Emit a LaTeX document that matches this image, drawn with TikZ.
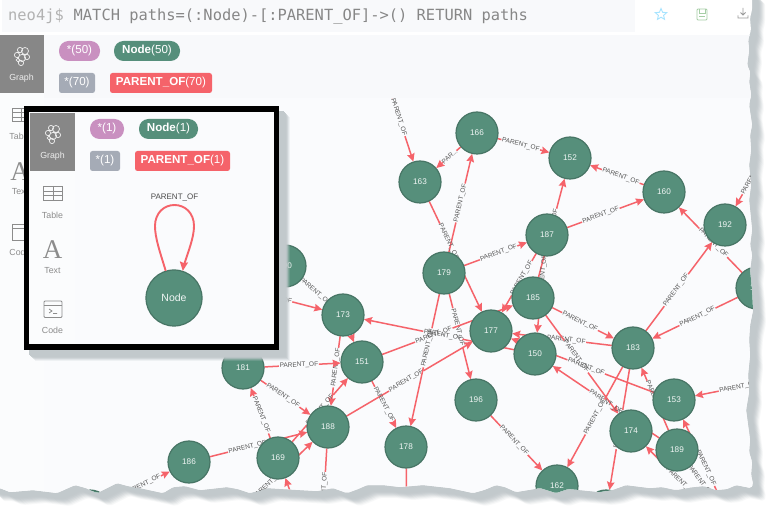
\documentclass[tikz,border=0pt]{standalone}
\usepackage{fontspec}
\setmainfont{Liberation Sans}
\newfontfamily\cmdfont{DejaVu Sans Mono}
\newfontfamily\bigafont{Liberation Serif}
\usetikzlibrary{calc,arrows.meta,shapes.geometric}
\definecolor{pagebg}{HTML}{FAFBFD}
\definecolor{bandbg}{HTML}{F8F9FB}
\definecolor{sidebg}{HTML}{FBFCFD}
\definecolor{btngray}{HTML}{878787}
\definecolor{nodefill}{HTML}{568F7B}
\definecolor{nodeline}{HTML}{477565}
\definecolor{relred}{HTML}{F5636A}
\definecolor{pink}{HTML}{C990C0}
\definecolor{slate}{HTML}{A5ABB6}
\definecolor{tornshadow}{HTML}{C2C9CC}
\definecolor{lblgray}{HTML}{555555}
\definecolor{sidegray}{HTML}{8C8C8C}
\pgfdeclarelayer{backdrop}
\pgfdeclarelayer{edgelayer}
\pgfsetlayers{backdrop,edgelayer,main}
\tikzset{
  gnode/.style={circle,fill=nodefill,draw=nodeline,line width=1.2pt,minimum size=42pt,inner sep=0pt,outer sep=.4pt,text=white!92!nodefill,font=\fontsize{8.2}{9}\selectfont},
  rel/.style={draw=relred,line width=1.5pt},
  reltip/.style={-{Stealth[length=8pt,width=7.5pt,inset=1pt]}},
  lbl/.style={text=lblgray,font=\fontsize{6.5}{7}\selectfont,inner sep=0pt},
  pill/.style={rounded corners=9.5pt,text=white,inner sep=0pt,minimum height=20pt,font=\fontsize{11.6}{12}\selectfont},
  tag/.style={rounded corners=2.5pt,text=white,inner sep=0pt,minimum height=20pt,font=\fontsize{11.6}{12}\selectfont},
  sidetxt/.style={text=sidegray,inner sep=0pt,font=\fontsize{8.8}{10}\selectfont},
  bigA/.style={inner sep=0pt,text=sidegray,font=\bigafont\fontsize{27}{27}\selectfont},
  icon/.style={draw=sidegray,line width=.9pt},
  bticon/.style={draw=white!85!btngray,line width=.7pt},
}
\def\PO{PARENT\_OF}
\newcommand\pe[5]{%
  \coordinate (m) at ($(#1.center)!#3!(#2.center)$);
  \draw[rel] (#1) -- ($(m)!#5pt!(#1.center)$);
  \draw[rel,reltip] ($(m)!#5pt!(#2.center)$) -- (#2);
  \path (#1.center) -- node[lbl,sloped,pos=#3]{#4} (#2.center);}
\def\tornpath{(-10,-10) -- (752,-10) -- (752,10) -- (750,18) -- (751,30) -- (748,40) -- (749,50) -- (747,65) -- (750,72) -- (749,82) -- (751,95) -- (749,105) -- (752,125) -- (750,135) -- (751,150) -- (749,165) -- (751,185) -- (749,200) -- (752,230) -- (750,245) -- (752,255) -- (750,270) -- (752,290) -- (753,310) -- (750,325) -- (749,340) -- (750,355) -- (748,375) -- (749,392) -- (746,410) -- (748,425) -- (750,440) -- (749,452) -- (752,462) -- (751,475) -- (753,484) -- (751,488) -- (736,485) -- (727,489) -- (716,490) -- (704,486) -- (693,487) -- (676,490) -- (662,487) -- (650,488) -- (626,485) -- (612,490) -- (600,492) -- (580,490) -- (568,489) -- (556,493) -- (540,488) -- (516,492) -- (505,487) -- (496,485) -- (484,490) -- (473,493) -- (450,488) -- (423,485) -- (400,487) -- (383,485) -- (367,485) -- (358,489) -- (347,493) -- (333,488) -- (317,491) -- (300,490) -- (267,488) -- (250,493) -- (238,489) -- (227,487) -- (200,490) -- (185,486) -- (173,487) -- (163,493) -- (140,488) -- (128,486) -- (117,483) -- (107,488) -- (97,493) -- (86,488) -- (75,485) -- (57,493) -- (33,490) -- (10,492) -- (0,488) -- (-10,488) -- cycle}
\begin{document}
\begin{tikzpicture}[x=1pt,y=-1pt]
\useasboundingbox (0,0) rectangle (773,510);
% ----- page shadow and page
\begin{pgfonlayer}{backdrop}
  \fill[white] (0,0) rectangle (773,510);
  \foreach \s/\o in {13/.12,12/.18,11/.25,10/.32,9/.4,8/.5,7/.6,6/.7,5/.8,3/.9}{
    \fill[tornshadow,opacity=\o,shift={(\s,\s)},rounded corners=2pt] \tornpath;
  }
  \begin{scope}
    \clip[rounded corners=1.5pt] \tornpath;
    \fill[white] (-10,-10) rectangle (780,520);
    \fill[pagebg] (-10,35) rectangle (780,520);
    \fill[sidebg] (-10,35) rectangle (44,520);
  \end{scope}
\end{pgfonlayer}
% ----- graph nodes
\begin{scope}
\clip[rounded corners=1.5pt] \tornpath;
\foreach \n/\x/\y in {166/477/133,163/420/182,152/570/158,160/664/192,192/725/225,187/547/235,179/444/273,185/533/298,177/491/331,150/535/354,183/633/348,153/674/400,174/631/431,189/677/450,196/476/400,178/406/447,162/557/486,173/343/315,151/362/362,181/243/368,188/328/427,169/278/458,186/189/462,190/285/266}
  \node[gnode] (n\n) at (\x,\y) {\n};
\node[gnode] (nr) at (757,288) {191};
\node[gnode] (nb) at (606,511) {};
\node[gnode] (nl) at (90,511) {};
% band above the graph
\fill[bandbg] (44,35) rectangle (780,98);
\end{scope}
% free ends of connectors
\coordinate (fa) at (384,72);
\coordinate (fb) at (762,160);
\coordinate (fc) at (770,381);
\coordinate (fd) at (247,505);
\coordinate (fe) at (297,510);
\coordinate (ff) at (322,530);
\coordinate (fg) at (407,530);
\coordinate (fh) at (200,278);
\coordinate (fi) at (720,522);
\coordinate (fj) at (719,506);
\coordinate (fk) at (730,519);
% ----- connectors
\begin{pgfonlayer}{edgelayer}
\clip[rounded corners=1.5pt] \tornpath;
\pe{fa}{n163}{.41}{\PO}{20}
\pe{n166}{n163}{.48}{PAR...}{9}
\pe{n179}{n166}{.5}{\PO}{20}
\pe{n163}{n177}{.4}{\PO}{20}
\pe{n179}{n196}{.43}{\PO}{20}
\pe{n179}{n178}{.43}{\PO}{20}
\pe{n179}{n187}{.53}{\PO}{20}
\pe{n185}{n152}{.5}{\PO}{20}
\pe{n187}{n150}{.33}{\PO}{20}
\pe{n187}{n177}{.45}{\PO}{20}
\pe{n187}{n160}{.46}{\PO}{20}
\pe{n160}{n152}{.46}{\PO}{20}
\pe{n166}{n152}{.47}{\PO}{20}
\pe{nr}{n160}{.47}{\PO}{20}
\pe{n183}{n192}{.47}{\PO}{20}
\pe{fb}{n192}{.26}{\PO}{20}
\pe{nr}{n183}{.48}{\PO}{20}
\pe{n185}{n183}{.47}{\PO}{20}
\pe{n183}{n177}{.47}{\PO}{20}
\pe{n150}{n173}{.48}{\PO}{20}
\pe{n151}{n185}{.42}{\PO}{20}
\pe{n188}{n177}{.48}{\PO}{20}
\pe{n185}{n174}{.44}{\PO}{20}
\pe{n153}{n177}{.48}{\PO}{20}
\pe{n189}{n150}{.5}{\PO}{20}
\pe{n183}{n162}{.5}{\PO}{20}
\pe{n183}{nb}{.5}{\PO}{20}
\pe{n189}{n183}{.5}{\PO}{20}
\pe{fc}{n153}{.33}{\PO}{20}
\pe{n196}{n162}{.47}{\PO}{20}
\pe{n151}{n178}{.5}{\PO}{20}
\draw[rel,reltip] (n173) -- (n151);
\pe{n173}{n188}{.47}{\PO}{20}
\pe{n169}{n151}{.5}{\PO}{20}
\pe{fd}{n188}{.26}{\PO}{20}
\pe{n186}{n188}{.42}{\PO}{20}
\pe{n169}{n181}{.48}{\PO}{20}
\pe{n181}{n188}{.47}{\PO}{20}
\pe{n181}{n151}{.47}{\PO}{20}
\draw[rel,reltip] (fe) -- (n169);
\pe{n188}{ff}{.63}{\PO}{20}
\draw[rel] (n178) -- (fg);
\pe{nl}{n186}{.535}{\PO}{20}
\pe{n190}{n173}{.52}{\PO}{20}
\pe{fh}{n173}{.51}{\PO}{20}
\pe{fi}{n174}{.44}{\PO}{20}
\pe{fj}{n189}{.45}{\PO}{20}
\pe{fk}{n153}{.43}{\PO}{20}
\end{pgfonlayer}
% ----- command bar
\fill[bandbg] (2,0) rectangle (635,32);
\node[anchor=base west,inner sep=0pt,font=\cmdfont\fontsize{15.4}{18}\selectfont,text=black!30] (prompt) at (8,21) {neo4j\$};
\node[anchor=base west,inner sep=0pt,font=\cmdfont\fontsize{15.4}{18}\selectfont,text=black!47] (cmd) at (73.5,21) {MATCH paths=(:Node)-[:PARENT\_OF]->() RETURN paths};
\node[star,star points=5,star point ratio=2.2,draw=blue!30!cyan!35,line width=.9pt,minimum size=12pt,inner sep=0pt] (staricon) at (661,14.5) {};
\draw[draw=green!45!black!35,line width=.9pt,rounded corners=1pt] (697,9) rectangle (707,20);
\draw[draw=green!45!black!35,line width=.7pt] (699,9) -- (699,13) -- (705,13) -- (705,9) (699,16) -- (705,16);
\draw[draw=black!40,line width=.9pt] (743,8) -- (743,15) (740.5,12.5) -- (743,15) -- (745.5,12.5) (738,15.5) -- (738,18) -- (748,18) -- (748,15.5);
% ----- main side bar and legend
\fill[btngray] (0,35) rectangle (44,93);
\begin{scope}[shift={(22,57)}]
  \draw[bticon] (-2,-7) circle (2.6) (3,-6) circle (3.5) (-5,-2) circle (2.6) (0,1) circle (3.6) (5,0) circle (2.6) (-1,6) circle (2.6) (-4,3) circle (1.8);
\end{scope}
\node[sidetxt,text=white!85!btngray] (gtxt) at (21.5,78.5) {Graph};
\node[pill,fill=pink,minimum width=41pt] (k1) at (79.5,51) {*(50)};
\node[pill,fill=nodefill,minimum width=66pt] (k2) at (147,51) {\textbf{Node}(50)};
\node[tag,fill=slate,minimum width=36pt] (k3) at (77,83) {*(70)};
\node[tag,fill=relred,minimum width=102pt] (k4) at (161,83) {\textbf{\PO}(70)};
\draw[icon] (12,108) rectangle (30,121) (12,112.5) -- (30,112.5) (12,117) -- (30,117) (21,108) -- (21,121);
\node[sidetxt] (t1) at (20,136) {Table};
\node[bigA] (t2) at (20,172) {A};
\node[sidetxt] (t3) at (20,192) {Text};
\draw[icon] (12,224) rectangle (30,240) (12,228) -- (30,228);
\node[sidetxt] (t4) at (20,252) {Code};
% ----- inset shadow
\foreach \s/\o in {11/.2,10/.3,9/.5,8/.7,7/.9,6/1,5/1}{
  \fill[tornshadow,opacity=\o] (24+\s,106+\s) rectangle (279+\s,350+\s);
}
% ----- inset
\fill[black] (24,106) rectangle (279,350);
\fill[pagebg] (29,112) rectangle (274,344);
\fill[sidebg] (30,113) rectangle (75,344);
\fill[btngray] (30,113) rectangle (75,171);
\begin{scope}[shift={(53,135)}]
  \draw[bticon] (-2,-7) circle (2.6) (3,-6) circle (3.5) (-5,-2) circle (2.6) (0,1) circle (3.6) (5,0) circle (2.6) (-1,6) circle (2.6) (-4,3) circle (1.8);
\end{scope}
\node[sidetxt,text=white!85!btngray] (igtxt) at (52.5,156.5) {Graph};
\node[pill,fill=pink,minimum width=34pt] (i1) at (107,129) {*(1)};
\node[pill,fill=nodefill,minimum width=59pt] (i2) at (168.5,129) {\textbf{Node}(1)};
\node[tag,fill=slate,minimum width=30pt] (i3) at (105,161) {*(1)};
\node[tag,fill=relred,minimum width=95pt] (i4) at (182.5,161) {\textbf{\PO}(1)};
\draw[icon] (43.5,186) rectangle (62.5,200) (43.5,191) -- (62.5,191) (43.5,195.5) -- (62.5,195.5) (53,186) -- (53,200);
\node[sidetxt] (it1) at (52.5,215) {Table};
\node[bigA] (it2) at (52.5,250) {A};
\node[sidetxt] (it3) at (52.5,271) {Text};
\draw[icon,rounded corners=1pt] (44,301) rectangle (62,317.5) (44,305.5) -- (62,305.5);
\draw[icon,line width=.7pt] (49,309) -- (52,311) -- (49,313) (53,313.5) -- (57,313.5);
\node[sidetxt] (it4) at (52.5,330.5) {Code};
\node[gnode,minimum size=56pt,font=\fontsize{10.5}{12}\selectfont] (nd) at (174,298) {Node};
\draw[rel,line width=1.9pt] (nd.107) .. controls (160,252) and (155,238) .. (155,226) .. controls (155,213) and (164,205) .. (174.5,205) .. controls (185,205) and (194,213) .. (194,226) .. controls (194,238) and (188,252) .. (183,268);
\draw[rel,line width=1.9pt,-{Stealth[length=9pt,width=8pt,inset=1pt]}] (183.3,267) -- (nd.72);
\node[lbl,text=black!70,font=\fontsize{8}{9}\selectfont] (lp) at (174.5,198) {\PO};
\end{tikzpicture}
\end{document}
